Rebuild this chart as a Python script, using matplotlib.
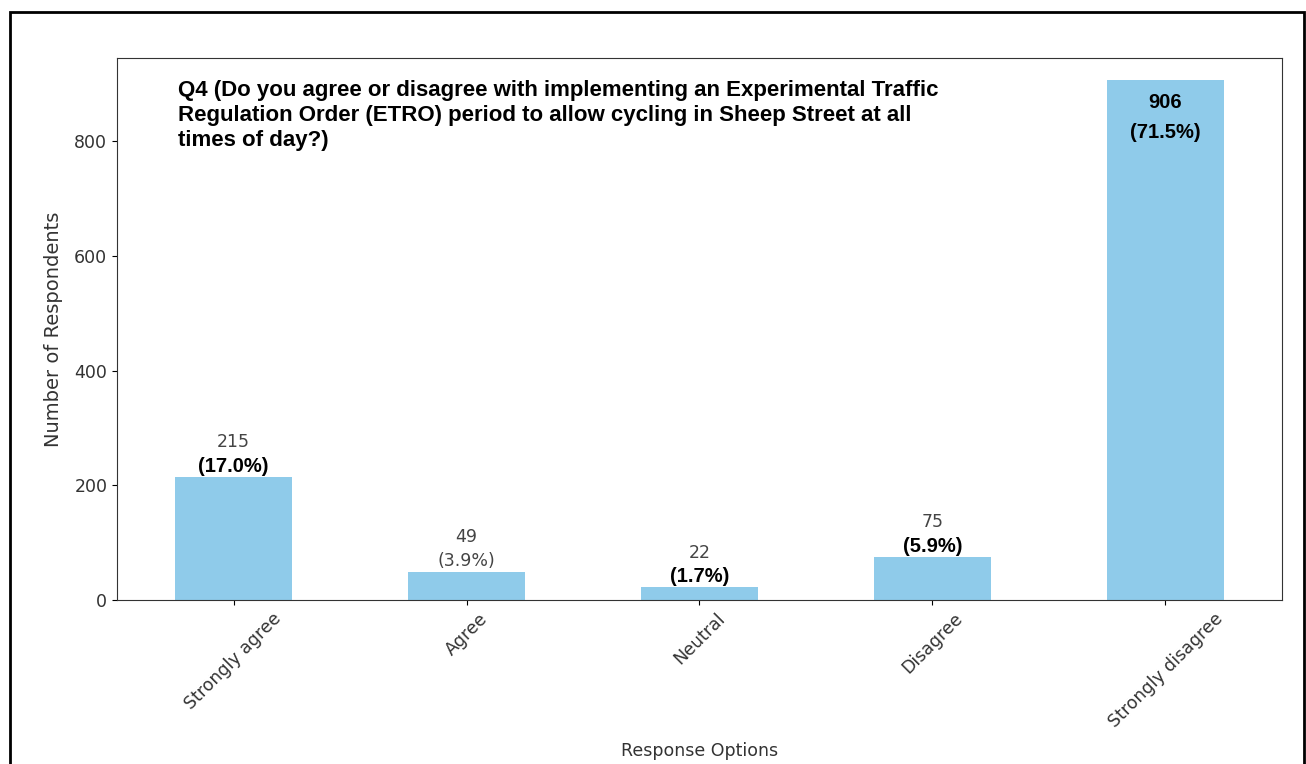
import numpy as np
import matplotlib
matplotlib.use('Agg')
import matplotlib.pyplot as plt
from matplotlib.patches import Rectangle

categories = ['Strongly agree', 'Agree', 'Neutral', 'Disagree', 'Strongly disagree']
counts = [215, 49, 22, 75, 906]
percents = [17.0, 3.9, 1.7, 5.9, 71.5]
# which percentage labels were drawn bold in the original
bold_pct = [True, False, True, True, True]

question = ('Q4 (Do you agree or disagree with implementing an Experimental Traffic\n'
            'Regulation Order (ETRO) period to allow cycling in Sheep Street at all\n'
            'times of day?)')

fig = plt.figure(figsize=(13.06, 7.64), dpi=100)
ax = fig.add_axes([0.0896, 0.2147, 0.8920, 0.7093])

x = np.arange(len(categories))
ax.bar(x, counts, width=0.5, color='#8fcbea')
ax.set_xlim(-0.5, len(categories) - 0.5)
ax.set_ylim(0, 945)
ax.set_xticks(x)
ax.set_xticklabels(categories, rotation=45, fontsize=12.5, color='#333333')
ax.tick_params(axis='y', labelsize=12.5, labelcolor='#333333')
ax.set_xlabel('Response Options', fontsize=12.5, color='#333333', labelpad=8)
ax.set_ylabel('Number of Respondents', fontsize=14, color='#333333', labelpad=8)
for s in ax.spines.values():
    s.set_color('#333333')

for i, (c, p) in enumerate(zip(counts, percents)):
    if i == len(counts) - 1:
        # the tall bar gets its label inside, near the top
        ax.text(i, c - 22, f'{c}', ha='center', va='top', fontsize=14.5,
                fontweight='bold', family='Liberation Sans')
        ax.text(i, c - 74, f'({p:.1f}%)', ha='center', va='top', fontsize=14.5,
                fontweight='bold', family='Liberation Sans')
        continue
    if bold_pct[i]:
        ax.text(i, c + 2, f'({p:.1f}%)', ha='center', va='bottom', fontsize=14.5,
                fontweight='bold', family='Liberation Sans')
    else:
        ax.text(i, c + 4, f'({p:.1f}%)', ha='center', va='bottom', fontsize=12.5,
                color='#444444')
    ax.text(i, c + 45, f'{c}', ha='center', va='bottom', fontsize=12.5, color='#444444')

ax.text(0.052, 0.96, question, transform=ax.transAxes, ha='left', va='top',
        fontsize=16, fontweight='bold', family='Liberation Sans', linespacing=1.25)

# screenshot frame around the figure
fig.patches.append(Rectangle((10 / 1306, -0.1), 1294 / 1306, 1.1 - 12 / 764,
                             transform=fig.transFigure, fill=False,
                             edgecolor='black', linewidth=2, clip_on=False))

fig.savefig('out.png', dpi=100)
